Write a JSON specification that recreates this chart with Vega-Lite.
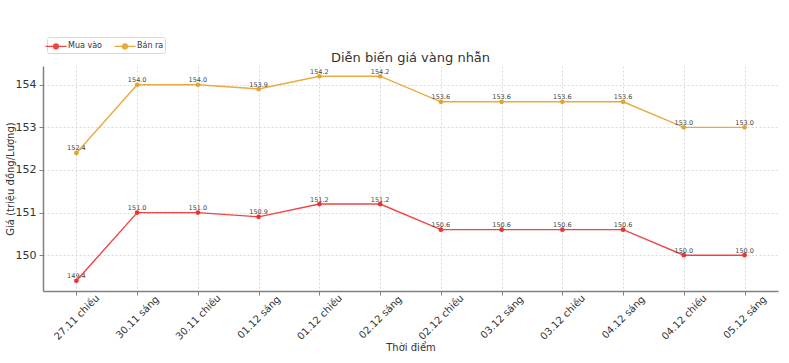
{
  "$schema": "https://vega.github.io/schema/vega-lite/v6.json",
  "width": 735,
  "height": 225,
  "autosize": {"type": "none"},
  "padding": {"left": 43, "top": 66, "right": 11, "bottom": 72},
  "background": "white",
  "config": {
    "font": "DejaVu Sans",
    "view": {"stroke": null},
    "axis": {
      "domainColor": "#808080",
      "domainWidth": 1.5,
      "tickColor": "#808080",
      "tickSize": 4,
      "labelColor": "#333333",
      "titleColor": "#333333",
      "titleFontWeight": "normal",
      "gridColor": "#d0d0d0",
      "gridDash": [2, 2],
      "gridWidth": 0.8
    }
  },
  "title": {
    "text": "Diễn biến giá vàng nhẫn",
    "fontSize": 13,
    "fontWeight": "normal",
    "color": "#333333",
    "anchor": "middle",
    "offset": 4,
    "dy": 32
  },
  "data": {
    "values": [
      {"t": "27.11 chiều", "s": "Mua vào", "v": 149.4},
      {"t": "30.11 sáng", "s": "Mua vào", "v": 151.0},
      {"t": "30.11 chiều", "s": "Mua vào", "v": 151.0},
      {"t": "01.12 sáng", "s": "Mua vào", "v": 150.9},
      {"t": "01.12 chiều", "s": "Mua vào", "v": 151.2},
      {"t": "02.12 sáng", "s": "Mua vào", "v": 151.2},
      {"t": "02.12 chiều", "s": "Mua vào", "v": 150.6},
      {"t": "03.12 sáng", "s": "Mua vào", "v": 150.6},
      {"t": "03.12 chiều", "s": "Mua vào", "v": 150.6},
      {"t": "04.12 sáng", "s": "Mua vào", "v": 150.6},
      {"t": "04.12 chiều", "s": "Mua vào", "v": 150.0},
      {"t": "05.12 sáng", "s": "Mua vào", "v": 150.0},
      {"t": "27.11 chiều", "s": "Bán ra", "v": 152.4},
      {"t": "30.11 sáng", "s": "Bán ra", "v": 154.0},
      {"t": "30.11 chiều", "s": "Bán ra", "v": 154.0},
      {"t": "01.12 sáng", "s": "Bán ra", "v": 153.9},
      {"t": "01.12 chiều", "s": "Bán ra", "v": 154.2},
      {"t": "02.12 sáng", "s": "Bán ra", "v": 154.2},
      {"t": "02.12 chiều", "s": "Bán ra", "v": 153.6},
      {"t": "03.12 sáng", "s": "Bán ra", "v": 153.6},
      {"t": "03.12 chiều", "s": "Bán ra", "v": 153.6},
      {"t": "04.12 sáng", "s": "Bán ra", "v": 153.6},
      {"t": "04.12 chiều", "s": "Bán ra", "v": 153.0},
      {"t": "05.12 sáng", "s": "Bán ra", "v": 153.0}
    ]
  },
  "encoding": {
    "x": {
      "field": "t",
      "type": "ordinal",
      "sort": null,
      "scale": {"type": "point", "padding": 0.55},
      "axis": {
        "title": "Thời điểm",
        "titleFontSize": 10,
        "titlePadding": 1,
        "labelAngle": -45,
        "labelAlign": "center",
        "labelBaseline": "middle",
        "labelFontSize": 10,
        "labelPadding": 22,
        "grid": true
      }
    },
    "y": {
      "field": "v",
      "type": "quantitative",
      "scale": {"domain": [149.16, 154.44], "nice": false, "zero": false},
      "axis": {
        "title": "Giá (triệu đồng/Lượng)",
        "titleFontSize": 10,
        "titlePadding": 0,
        "values": [150, 151, 152, 153, 154],
        "format": "d",
        "labelFontSize": 11,
        "labelPadding": 3,
        "grid": true
      }
    },
    "color": {
      "field": "s",
      "type": "nominal",
      "scale": {"domain": ["Mua vào", "Bán ra"], "range": ["#f03030", "#e6a22a"]},
      "legend": {
        "title": null,
        "orient": "none",
        "legendX": 4,
        "legendY": -29,
        "direction": "horizontal",
        "labelFontSize": 8,
        "labelColor": "#333333",
        "labelOffset": 4,
        "symbolType": "M-1.5,0L1.5,0M-0.35,0A0.35,0.35 0 1,0 0.35,0A0.35,0.35 0 1,0 -0.35,0",
        "symbolSize": 196,
        "symbolStrokeWidth": 1.3,
        "columnPadding": 9,
        "padding": 1,
        "strokeColor": "#d8d8d8",
        "cornerRadius": 2,
        "fillColor": "white"
      }
    }
  },
  "layer": [
    {"mark": {"type": "line", "strokeWidth": 1.4, "opacity": 0.9}},
    {"mark": {"type": "circle", "size": 22, "opacity": 1}},
    {
      "mark": {"type": "text", "fontSize": 6.5, "color": "#444444", "dy": -1.5, "baseline": "bottom"},
      "encoding": {
        "text": {"field": "v", "type": "quantitative", "format": ".1f"},
        "color": {"value": "#444444"}
      }
    }
  ]
}
